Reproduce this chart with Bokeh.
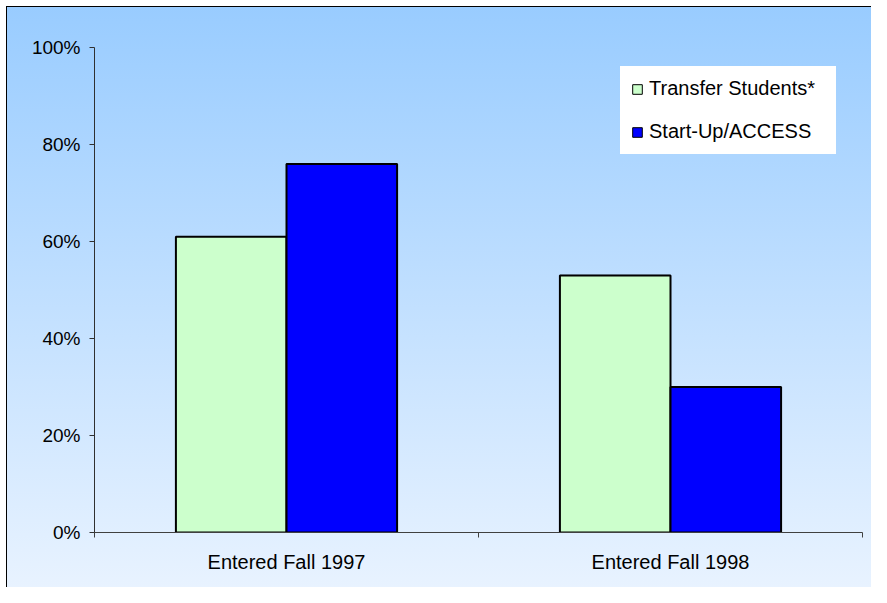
from bokeh.plotting import figure
from bokeh.models import ColumnDataSource, FixedTicker, NumeralTickFormatter, Legend, LegendItem, Range1d
from bokeh.embed import file_html
from bokeh.resources import INLINE

categories = ["Entered Fall 1997", "Entered Fall 1998"]
series_names = ["Transfer Students*", "Start-Up/ACCESS"]
transfer = [0.61, 0.53]
startup = [0.76, 0.30]
colors = ["#CCFFCC", "#0000FF"]
y_ticks = [0, 0.2, 0.4, 0.6, 0.8, 1.0]

FONT = "Liberation Sans"

p = figure(width=871, height=587, output_backend="svg", toolbar_location=None,
           x_range=Range1d(0, len(categories)), y_range=Range1d(0, 1.0),
           min_border_left=94, min_border_top=47, min_border_right=9, min_border_bottom=55)
p.background_fill_color = None
p.border_fill_color = None
p.outline_line_color = None
p.grid.visible = False
p.styles = {
    "background": ("linear-gradient(#000000, #000000) 6px 6px / 1px 100% no-repeat, "
                   "linear-gradient(#000000, #000000) 6px 6px / 100% 1px no-repeat, "
                   "linear-gradient(to bottom, #99CCFF 0%, #E9F3FF 100%) 7px 7px / 100% 100% no-repeat, "
                   "#FFFFFF"),
}

centers = [i + 0.5 for i in range(len(categories))]
bw = 0.288
src1 = ColumnDataSource(dict(x=[c - bw / 2 for c in centers], top=transfer))
src2 = ColumnDataSource(dict(x=[c + bw / 2 for c in centers], top=startup))

# thin-outline copies underneath, used for the legend swatches
l1 = p.vbar(x="x", top="top", width=bw, source=src1, fill_color=colors[0], line_color="black", line_width=1)
l2 = p.vbar(x="x", top="top", width=bw, source=src2, fill_color=colors[1], line_color="black", line_width=1)
r1 = p.vbar(x="x", top="top", width=bw, source=src1, fill_color=colors[0], line_color="black", line_width=2)
r2 = p.vbar(x="x", top="top", width=bw, source=src2, fill_color=colors[1], line_color="black", line_width=2)

# x axis
p.xaxis.ticker = FixedTicker(ticks=centers, minor_ticks=list(range(len(categories) + 1)))
p.xaxis.major_label_overrides = {c: lab for c, lab in zip(centers, categories)}
p.xaxis.major_tick_line_color = None
p.xaxis.major_tick_out = 0
p.xaxis.major_tick_in = 0
p.xaxis.minor_tick_out = 5
p.xaxis.minor_tick_in = 0
p.xaxis.minor_tick_line_color = "#404040"
p.xaxis.axis_line_color = "#404040"
p.xaxis.major_label_text_font = FONT
p.xaxis.major_label_text_font_size = "20px"
p.xaxis.major_label_text_color = "black"
p.xaxis.major_label_standoff = 13

# y axis
p.yaxis.ticker = FixedTicker(ticks=y_ticks)
p.yaxis.formatter = NumeralTickFormatter(format="0%")
p.yaxis.major_tick_out = 5
p.yaxis.major_tick_in = 0
p.yaxis.minor_tick_line_color = None
p.yaxis.axis_line_color = "#303030"
p.yaxis.major_tick_line_color = "#303030"
p.yaxis.major_label_text_font = FONT
p.yaxis.major_label_text_font_size = "19px"
p.yaxis.major_label_text_color = "black"
p.yaxis.major_label_standoff = 9

legend = Legend(items=[LegendItem(label=series_names[0], renderers=[l1]),
                       LegendItem(label=series_names[1], renderers=[l2])],
                location=(526, 378))
legend.background_fill_color = "white"
legend.background_fill_alpha = 1.0
legend.border_line_color = "white"
legend.border_line_width = 1
legend.label_text_font = FONT
legend.label_text_font_size = "20px"
legend.label_text_color = "black"
legend.glyph_width = 12
legend.glyph_height = 12
legend.label_height = 20
legend.label_width = 176
legend.label_standoff = 6
legend.spacing = 20
legend.padding = 10
legend.margin = 0
p.add_layout(legend)

open("out.html", "w").write(file_html(p, INLINE))
